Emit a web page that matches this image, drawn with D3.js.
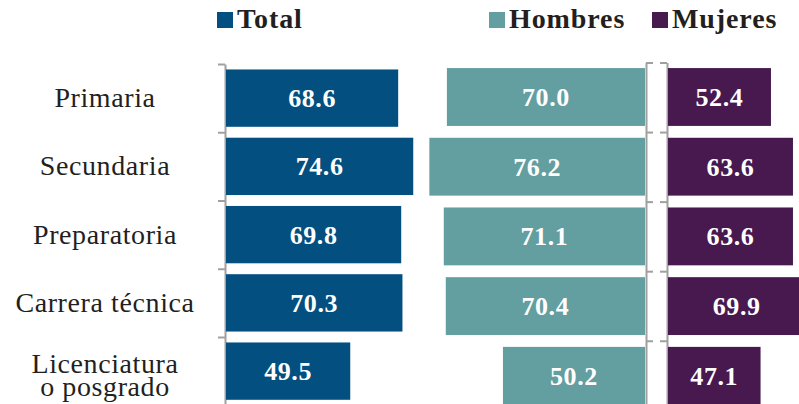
<!DOCTYPE html>
<html lang="es">
<head>
  <meta charset="UTF-8">
  <title>Total, Hombres, Mujeres por nivel educativo</title>
  <style>
    body { margin: 0; background: #fff; }
    svg { display: block; }
  </style>
  <script src="https://d3js.org/d3.v7.min.js"></script>
</head>
<body>
  <svg width="799" height="404"></svg>
  <script>
    // datos
    const categorias = ["Primaria", "Secundaria", "Preparatoria", "Carrera técnica", "Licenciatura\no posgrado"];
    const total   = [68.6, 74.6, 69.8, 70.3, 49.5];
    const hombres = [70.0, 76.2, 71.1, 70.4, 50.2];
    const mujeres = [52.4, 63.6, 63.6, 69.9, 47.1];
    const series  = ["Total", "Hombres", "Mujeres"];
    const colores = ["#024f80", "#639ea0", "#47194f"];

    const svg = d3.select("svg");
    const fuente = "'Liberation Serif', 'Times New Roman', serif";
    const ink = "#231f20";
    const gris = "#a0a0a0";

    // escalas verticales (el panel izquierdo y los de la derecha no coinciden del todo)
    const yTotal = d3.scaleBand().domain(d3.range(5)).range([64, 405.25]).paddingInner(0.16).paddingOuter(0.08);
    const yDer   = d3.scaleBand().domain(d3.range(5)).range([62.5, 410.3]).paddingInner(0.17).paddingOuter(0.08);
    const bTotal = d3.scaleLinear().domain([0, 5]).range([64, 405.25]);
    const bDer   = d3.scaleLinear().domain([0, 5]).range([62.5, 410.3]);

    // escalas horizontales de cada panel
    const xTotal = d3.scaleLinear().domain([0, 100]).range([226, 477]);
    const xHom   = d3.scaleLinear().domain([0, 100]).range([645, 362]);
    const xMuj   = d3.scaleLinear().domain([0, 100]).range([668, 864.5]);

    // ejes (sólo marcas en los límites de cada categoría)
    function eje(g, axis) {
      g.call(axis.tickValues(d3.range(6)).tickFormat("").tickSizeOuter(0).tickSizeInner(7));
      g.selectAll("path, line").attr("stroke", gris).attr("stroke-width", 2);
    }
    svg.append("g").attr("transform", "translate(225,0)").call(g => eje(g, d3.axisLeft(bTotal)));
    svg.append("g").attr("transform", "translate(646,0)").call(g => eje(g, d3.axisRight(bDer)));
    svg.append("g").attr("transform", "translate(667,0)").call(g => eje(g, d3.axisLeft(bDer)));

    // barras
    function panel(datos, x, y, color) {
      const g = svg.append("g");
      g.selectAll("rect").data(datos).join("rect")
        .attr("x", d => Math.min(x(0), x(d)))
        .attr("width", d => Math.abs(x(d) - x(0)))
        .attr("y", (d, i) => y(i))
        .attr("height", y.bandwidth())
        .attr("fill", color);
      g.selectAll("text").data(datos).join("text")
        .attr("x", d => (x(0) + x(d)) / 2)
        .attr("y", (d, i) => y(i) + y.bandwidth() / 2 + 9)
        .attr("text-anchor", "middle")
        .attr("fill", "#fff")
        .style("font-family", fuente)
        .attr("font-weight", "bold")
        .attr("font-size", 26)
        .attr("letter-spacing", 0.6)
        .text(d => d.toFixed(1));
    }
    panel(total, xTotal, yTotal, colores[0]);
    panel(hombres, xHom, yDer, colores[1]);
    panel(mujeres, xMuj, yDer, colores[2]);

    // etiquetas de categorías
    const cat = svg.append("g");
    categorias.forEach((c, i) => {
      const lineas = c.split("\n");
      const t = cat.append("text")
        .attr("x", 105)
        .attr("text-anchor", "middle")
        .attr("fill", ink)
        .style("font-family", fuente)
        .attr("font-size", 28)
        .attr("letter-spacing", 0.6);
      const cy = yTotal(i) + yTotal.bandwidth() / 2;
      if (lineas.length === 1) {
        t.attr("y", cy + 9).text(c);
      } else {
        lineas.forEach((l, j) => {
          t.append("tspan").attr("x", 105).attr("y", cy + 2 + j * 23).text(l);
        });
      }
    });

    // leyenda
    const leyX = [217, 489, 652];
    const ley = svg.append("g");
    series.forEach((s, i) => {
      ley.append("rect").attr("x", leyX[i]).attr("y", 12).attr("width", 16).attr("height", 16).attr("fill", colores[i]);
      ley.append("text").attr("x", leyX[i] + 20).attr("y", 28)
        .attr("fill", ink).style("font-family", fuente).attr("font-weight", "bold")
        .attr("font-size", 28).attr("letter-spacing", 0.9)
        .text(s);
    });
  </script>
</body>
</html>
